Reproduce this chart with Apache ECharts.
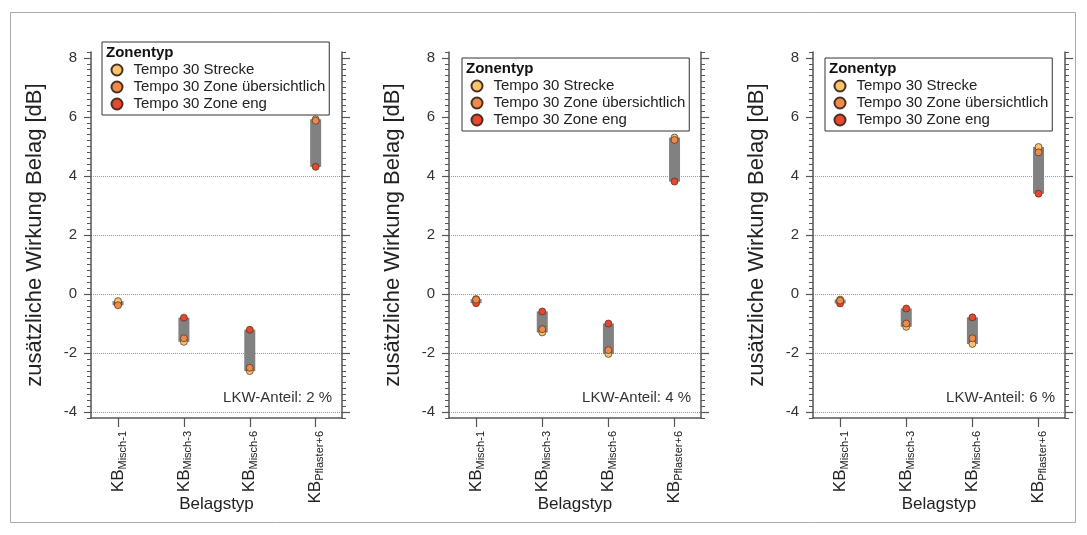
<!DOCTYPE html>
<html>
<head>
<meta charset="utf-8">
<script src="https://cdn.jsdelivr.net/npm/echarts@6/dist/echarts.min.js"></script>
<style>
  html, body { margin: 0; padding: 0; background: #fff; }
  #main { width: 1087px; height: 535px; }
</style>
</head>
<body>
<div id="main"></div>
<script>
// Kategorien (Belagstyp) und Zonentypen
var categories = ['Misch-1', 'Misch-3', 'Misch-6', 'Pflaster+6'];
var zoneNames = ['Tempo 30 Strecke', 'Tempo 30 Zone übersichtlich', 'Tempo 30 Zone eng'];
var lkwShares = [2, 4, 6];
var yTicks = [-4, -2, 0, 2, 4, 6, 8];
var gridTicks = [-4, -2, 0, 2, 4];

// zusätzliche Wirkung Belag [dB], je LKW-Anteil
var strecke2 = [-0.24, -1.62, -2.61, 5.92];
var zoneUeb2 = [-0.38, -1.50, -2.50, 5.87];
var zoneEng2 = [-0.34, -0.80, -1.21, 4.31];

var strecke4 = [-0.17, -1.30, -2.03, 5.30];
var zoneUeb4 = [-0.19, -1.19, -1.90, 5.22];
var zoneEng4 = [-0.31, -0.59, -1.00, 3.81];

var strecke6 = [-0.19, -1.11, -1.69, 4.98];
var zoneUeb6 = [-0.22, -1.00, -1.50, 4.80];
var zoneEng6 = [-0.32, -0.49, -0.79, 3.40];

var panels = [
    [strecke2, zoneUeb2, zoneEng2],
    [strecke4, zoneUeb4, zoneEng4],
    [strecke6, zoneUeb6, zoneEng6]
];

var zoneColors = ['#F8C56A', '#F08A4B', '#E5482F'];
var zoneZ = [3, 4, 2];
var font = "'Liberation Sans', Arial, sans-serif";
var axisColor = '#555';

var gridPos = [
    { left: 91, width: 251 },
    { left: 449, width: 252 },
    { left: 813, width: 252 }
];
var legendPos = [
    { left: 102, top: 42 },
    { left: 462, top: 58 },
    { left: 825, top: 58 }
];

var chart = echarts.init(document.getElementById('main'));

var grids = [], xAxes = [], yAxes = [], series = [], legends = [], titles = [], graphics = [];

graphics.push({
    type: 'rect', silent: true,
    shape: { x: 10.5, y: 12.5, width: 1065, height: 510 },
    style: { fill: 'none', stroke: '#aaa', lineWidth: 1 }
});

gridPos.forEach(function (g, p) {
    grids.push({ left: g.left, width: g.width, top: 52, height: 366 });

    xAxes.push({
        gridIndex: p, type: 'value', min: 0.59, max: 4.4,
        axisLine: { onZero: false, lineStyle: { color: axisColor, width: 1.5 } },
        axisTick: { customValues: [1, 2, 3, 4], length: 9, lineStyle: { color: axisColor, width: 1.2 } },
        axisLabel: {
            customValues: [1, 2, 3, 4], rotate: 90, margin: 13,
            formatter: function (v) { return '{kb|KB}{sub|' + categories[Math.round(v) - 1] + '}'; },
            rich: {
                kb: { fontFamily: font, fontSize: 17, color: '#222', lineHeight: 20 },
                sub: { fontFamily: font, fontSize: 11, color: '#222', lineHeight: 20, verticalAlign: 'bottom' }
            }
        },
        splitLine: { show: false },
        name: 'Belagstyp', nameLocation: 'middle', nameGap: 78, nameMoveOverlap: false,
        nameTextStyle: { fontFamily: font, fontSize: 17, color: '#222' }
    });

    // Hauptachse links
    yAxes.push({
        gridIndex: p, type: 'value', min: -4.2, max: 8.2, position: 'left',
        axisLine: { show: true, onZero: false, lineStyle: { color: axisColor, width: 1.5 } },
        axisTick: { customValues: yTicks, length: 7, lineStyle: { color: axisColor, width: 1.2 } },
        axisLabel: { customValues: yTicks, margin: 14, fontFamily: font, fontSize: 15, color: '#333' },
        splitLine: { show: false },
        name: 'zusätzliche Wirkung Belag [dB]', nameLocation: 'middle', nameGap: 45, nameMoveOverlap: false,
        nameTextStyle: { fontFamily: font, fontSize: 22, color: '#222' }
    });
    // Nebenstriche links
    yAxes.push({
        gridIndex: p, type: 'value', min: -4.2, max: 8.2, interval: 0.2, position: 'left',
        axisLine: { show: false },
        axisTick: { length: 4, lineStyle: { color: axisColor, width: 1 } },
        axisLabel: { show: false }, splitLine: { show: false }
    });
    // rechte Achse
    yAxes.push({
        gridIndex: p, type: 'value', min: -4.2, max: 8.2, position: 'right',
        axisLine: { show: true, onZero: false, lineStyle: { color: axisColor, width: 1.5 } },
        axisTick: { customValues: yTicks, length: 8, lineStyle: { color: axisColor, width: 1.2 } },
        axisLabel: { show: false }, splitLine: { show: false }
    });
    yAxes.push({
        gridIndex: p, type: 'value', min: -4.2, max: 8.2, interval: 0.2, position: 'right',
        axisLine: { show: false },
        axisTick: { length: 4, lineStyle: { color: axisColor, width: 1 } },
        axisLabel: { show: false }, splitLine: { show: false }
    });
    // Gitterlinien
    yAxes.push({
        gridIndex: p, type: 'value', min: -4.2, max: 8.2, position: 'left',
        axisLine: { show: false },
        axisTick: { show: false, customValues: gridTicks },
        axisLabel: { show: false },
        splitLine: { show: true, lineStyle: { color: '#999', type: 'dotted', width: 1 } }
    });

    var vals = panels[p];
    var ranges = categories.map(function (c, i) {
        var v = [vals[0][i], vals[1][i], vals[2][i]];
        return [i + 1, Math.min.apply(null, v), Math.max.apply(null, v)];
    });

    series.push({
        type: 'custom', xAxisIndex: p, yAxisIndex: p * 5, z: 1, silent: true,
        encode: { x: 0, y: [1, 2] },
        data: ranges,
        renderItem: function (params, api) {
            var top = api.coord([api.value(0), api.value(2)]);
            var bot = api.coord([api.value(0), api.value(1)]);
            return {
                type: 'rect',
                shape: { x: top[0] - 5.5, y: top[1], width: 11, height: bot[1] - top[1] },
                style: { fill: '#818181' }
            };
        }
    });

    zoneNames.forEach(function (name, k) {
        series.push({
            type: 'scatter', name: name, xAxisIndex: p, yAxisIndex: p * 5, z: zoneZ[k],
            symbol: 'circle', symbolSize: 7,
            itemStyle: { color: zoneColors[k], borderColor: '#4a2f22', borderWidth: 0.7, opacity: 1 },
            data: vals[k].map(function (v, i) { return [i + 1, v]; })
        });
    });

    legends.push({
        orient: 'vertical', left: legendPos[p].left, top: legendPos[p].top,
        data: zoneNames, selectedMode: false,
        icon: 'circle', itemWidth: 23, itemHeight: 11, itemGap: 0,
        padding: [19.5, 4, 2.5, 8.5],
        borderColor: '#333', borderWidth: 1, backgroundColor: '#fff',
        textStyle: { fontFamily: font, fontSize: 15, color: '#222', lineHeight: 17 }
    });

    titles.push({
        text: 'Zonentyp', left: legendPos[p].left + 4, top: legendPos[p].top + 3, padding: 0,
        textStyle: { fontFamily: font, fontSize: 15, fontWeight: 'bold', color: '#111' }
    });

    graphics.push({
        type: 'text', silent: true,
        x: g.left + g.width - 10, y: 398,
        style: {
            text: 'LKW-Anteil: ' + lkwShares[p] + ' %',
            fontFamily: font, fontSize: 15, fill: '#333',
            align: 'right', verticalAlign: 'middle'
        }
    });
});

chart.setOption({
    animation: false,
    backgroundColor: '#fff',
    title: titles,
    legend: legends,
    grid: grids,
    xAxis: xAxes,
    yAxis: yAxes,
    series: series,
    graphic: graphics
});
</script>
</body>
</html>
